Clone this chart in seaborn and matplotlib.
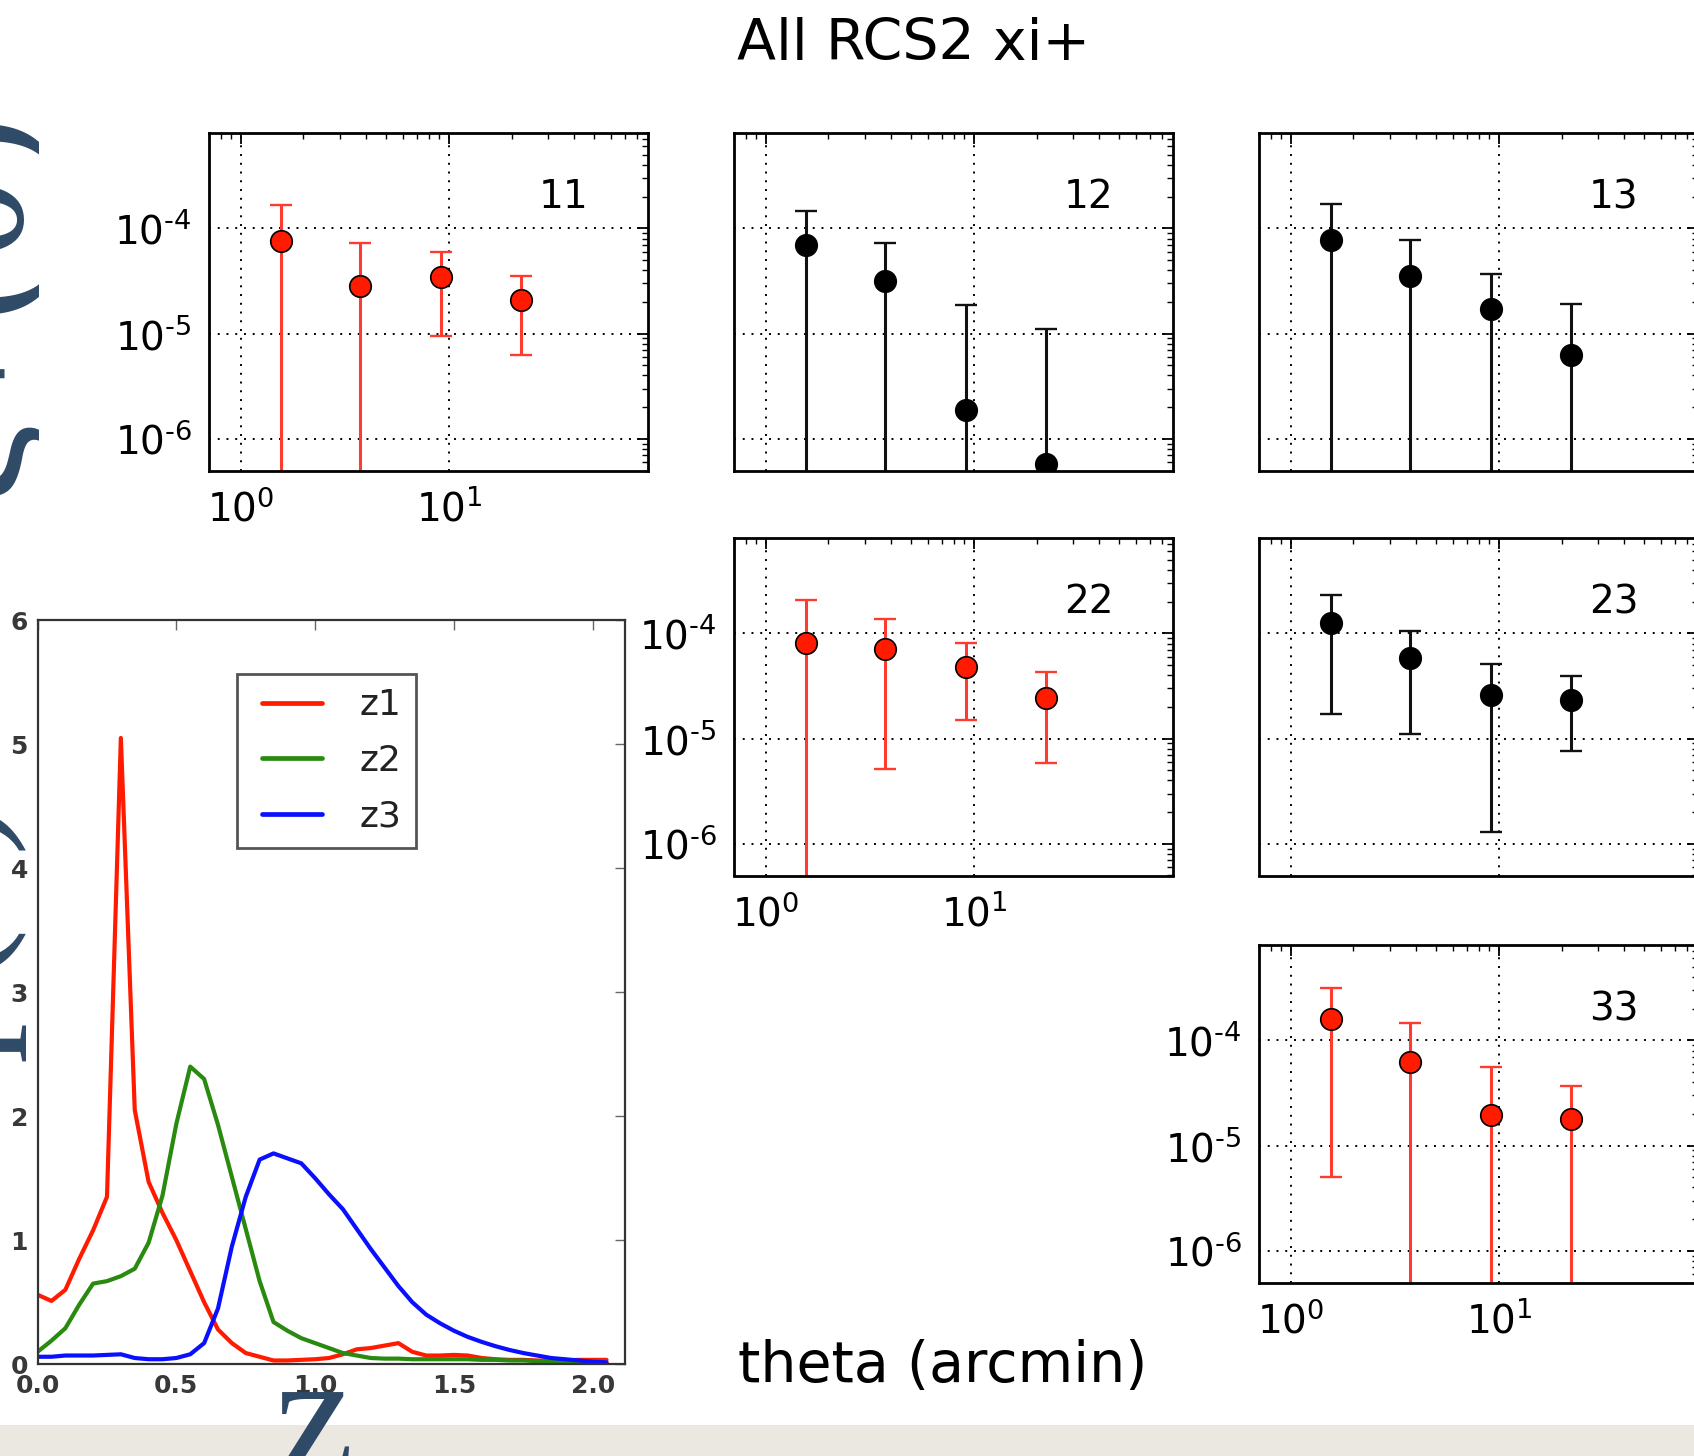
import numpy as np
import pandas as pd
import matplotlib
matplotlib.use("Agg")
import matplotlib.pyplot as plt
from matplotlib.patches import Rectangle
from matplotlib.lines import Line2D
from matplotlib.legend_handler import HandlerLine2D
from matplotlib.ticker import NullFormatter, FixedLocator, FuncFormatter
import seaborn as sns

# ---------------- data ----------------
theta = [1.56, 3.76, 9.18, 22.1]  # arcmin

xi_11 = [7.6e-5, 2.86e-5, 3.43e-5, 2.09e-5]
err_11 = [9.1e-5, 4.45e-5, 2.48e-5, 1.47e-5]
xi_12 = [6.95e-5, 3.19e-5, 1.88e-6, 5.8e-7]
err_12 = [7.55e-5, 4.12e-5, 1.68e-5, 1.05e-5]
xi_13 = [7.74e-5, 3.53e-5, 1.70e-5, 6.2e-6]
err_13 = [9.2e-5, 4.16e-5, 2.02e-5, 1.27e-5]
xi_22 = [8.15e-5, 7.15e-5, 4.79e-5, 2.45e-5]
err_22 = [1.27e-4, 6.64e-5, 3.28e-5, 1.86e-5]
xi_23 = [1.25e-4, 5.85e-5, 2.62e-5, 2.33e-5]
err_23 = [1.08e-4, 4.75e-5, 2.49e-5, 1.565e-5]
xi_33 = [1.60e-4, 6.24e-5, 1.96e-5, 1.78e-5]
err_33 = [1.55e-4, 8.3e-5, 3.6e-5, 1.9e-5]

panel_names = ["11", "12", "13", "22", "23", "33"]

z_grid = [0.00, 0.05, 0.10, 0.15, 0.20, 0.25, 0.30, 0.35, 0.40, 0.45,
          0.50, 0.55, 0.60, 0.65, 0.70, 0.75, 0.80, 0.85, 0.90, 0.95,
          1.00, 1.05, 1.10, 1.15, 1.20, 1.25, 1.30, 1.35, 1.40, 1.45,
          1.50, 1.55, 1.60, 1.65, 1.70, 1.75, 1.80, 1.85, 1.90, 1.95,
          2.00, 2.05]
nz_1 = [0.56, 0.51, 0.60, 0.85, 1.08, 1.35, 5.05, 2.05, 1.47, 1.22,
        1.00, 0.75, 0.50, 0.28, 0.17, 0.09, 0.06, 0.03, 0.03, 0.035,
        0.04, 0.05, 0.08, 0.12, 0.13, 0.15, 0.17, 0.10, 0.07, 0.07,
        0.075, 0.07, 0.05, 0.04, 0.035, 0.035, 0.03, 0.03, 0.03, 0.035,
        0.035, 0.035]
nz_2 = [0.10, 0.19, 0.29, 0.48, 0.65, 0.67, 0.71, 0.77, 0.98, 1.36,
        1.94, 2.40, 2.30, 1.93, 1.51, 1.09, 0.67, 0.34, 0.27, 0.21,
        0.17, 0.13, 0.09, 0.07, 0.05, 0.045, 0.045, 0.04, 0.04, 0.04,
        0.04, 0.04, 0.035, 0.035, 0.03, 0.03, 0.025, 0.025, 0.02, 0.02,
        0.02, 0.01]
nz_3 = [0.06, 0.06, 0.07, 0.07, 0.07, 0.075, 0.08, 0.05, 0.04, 0.04,
        0.05, 0.08, 0.17, 0.45, 0.95, 1.35, 1.65, 1.70, 1.66, 1.62,
        1.50, 1.37, 1.25, 1.09, 0.93, 0.78, 0.63, 0.50, 0.40, 0.33,
        0.27, 0.22, 0.18, 0.145, 0.115, 0.09, 0.07, 0.05, 0.04, 0.03,
        0.02, 0.015]
nz_labels = ["z1", "z2", "z3"]

# ---------------- figure ----------------
sns.set_style("white")
plt.rcParams["font.family"] = ["DejaVu Sans"]
plt.rcParams["mathtext.fontset"] = "dejavusans"

W, H = 1694, 1456
fig = plt.figure(figsize=(W / 100, H / 100), dpi=100)
fig.patch.set_facecolor("white")


def px_rect(left, top, w, h):
    return [left / W, 1 - (top + h) / H, w / W, h / H]


def px(x, y):
    return x / W, 1 - y / H


HYPHEN = "\u2010"


def decade_label(v, pos):
    e = int(round(np.log10(v)))
    if e < 0:
        return "$10^{" + HYPHEN + str(-e) + "}$"
    return "$10^{" + str(e) + "}$"


slide_blue = "#2e4a66"
serif = ["Liberation Serif", "DejaVu Serif"]

# slide band at the bottom
fig.patches.append(Rectangle((0, 0), 1, (H - 1425) / H, transform=fig.transFigure,
                             facecolor="#ebe8e1", edgecolor="none", zorder=-3))

# large slide labels, partly hidden behind the pasted plots
fig.text(*px(15, 302), "ξ+(θ)", rotation=90, rotation_mode="anchor",
         ha="center", va="baseline", fontsize=130, family=serif,
         color=slide_blue, zorder=-2)
fig.text(*px(-11, 929), "p(z)", rotation=90, rotation_mode="anchor",
         ha="center", va="baseline", fontsize=118, family=serif,
         color=slide_blue, zorder=-2)
# white area of the xi+ figure
fig.patches.append(Rectangle(px(39, 1425), (W - 39) / W, 1425 / H,
                             transform=fig.transFigure, facecolor="white",
                             edgecolor="none", zorder=-1))

# ---------------- xi+ panels ----------------
col_left = [208.5, 733.5, 1258.5]
row_top = [133.3, 538.3, 945.3]
pw, ph = 439, 337.2

red_face = "#ff1a00"
red_bar = "#ff3b2f"

panels = {
    "11": (0, 0, xi_11, err_11),
    "12": (0, 1, xi_12, err_12),
    "13": (0, 2, xi_13, err_13),
    "22": (1, 1, xi_22, err_22),
    "23": (1, 2, xi_23, err_23),
    "33": (2, 2, xi_33, err_33),
}

for name in panel_names:
    r, c, xi, err = panels[name]
    diag = r == c
    ax = fig.add_axes(px_rect(col_left[c], row_top[r], pw, ph))
    ax.set_facecolor("white")
    ax.set_xscale("log")
    ax.set_yscale("log", nonpositive="clip")
    bar_col = red_bar if diag else "#111111"
    face = red_face if diag else "black"
    ax.errorbar(theta, xi, yerr=err, fmt="none", ecolor=bar_col,
                elinewidth=2.2, capsize=8, capthick=1.7, zorder=2)
    sns.scatterplot(x=theta, y=xi, ax=ax, s=240, color=face,
                    edgecolor="black", linewidth=1.2, zorder=3, legend=False)
    ax.set_xlim(0.7, 90)
    ax.set_ylim(5e-7, 8e-4)
    ax.set_xlabel("")
    ax.set_ylabel("")
    ax.grid(True, which="major", color="black", linestyle=(0, (1, 3.5)),
            linewidth=1.4)
    ax.grid(False, which="minor")
    ax.tick_params(which="both", direction="in", top=True, right=True,
                   colors="black")
    ax.tick_params(which="major", length=8, width=1.3, labelsize=28)
    ax.tick_params(which="minor", length=4, width=1.0)
    ax.tick_params(axis="x", which="major", pad=14)
    ax.tick_params(axis="y", which="major", pad=12)
    ax.xaxis.set_major_formatter(FuncFormatter(decade_label))
    ax.yaxis.set_major_formatter(FuncFormatter(decade_label))
    ax.xaxis.set_minor_formatter(NullFormatter())
    ax.yaxis.set_minor_formatter(NullFormatter())
    if not diag:
        ax.tick_params(labelbottom=False, labelleft=False)
    for sp in ax.spines.values():
        sp.set_linewidth(2.0)
        sp.set_color("black")
        sp.set_visible(True)
    ax.text(0.866, 0.777, name, transform=ax.transAxes, ha="right",
            va="baseline", fontsize=28, color="black")

fig.text(*px(737, 60), "All RCS2 xi+", ha="left", va="baseline",
         fontsize=41, color="black")
fig.text(*px(738, 1382), "theta (arcmin)", ha="left", va="baseline",
         fontsize=41, color="black")

# ---------------- n(z) panel ----------------
ax_nz = fig.add_axes(px_rect(37.6, 620.2, 587, 744))
ax_nz.set_facecolor("white")
nz_df = pd.DataFrame({
    "z": z_grid * 3,
    "n": nz_1 + nz_2 + nz_3,
    "bin": [nz_labels[0]] * len(z_grid) + [nz_labels[1]] * len(z_grid)
           + [nz_labels[2]] * len(z_grid),
})
line_cols = ["#ff1a00", "#2a8a10", "#0a10ff"]
sns.lineplot(data=nz_df, x="z", y="n", hue="bin", palette=line_cols,
             estimator=None, linewidth=3.0, ax=ax_nz, legend=False)
ax_nz.set_xlim(0, 2.115)
ax_nz.set_ylim(0, 6)
ax_nz.set_xlabel("")
ax_nz.set_ylabel("")
ax_nz.xaxis.set_major_locator(FixedLocator([0.0, 0.5, 1.0, 1.5, 2.0]))
ax_nz.set_xticklabels(["0.0", "0.5", "1.0", "1.5", "2.0"])
ax_nz.yaxis.set_major_locator(FixedLocator([0, 1, 2, 3, 4, 5, 6]))
ax_nz.set_yticklabels(["0", "1", "2", "3", "4", "5", "6"])
ax_nz.tick_params(which="major", direction="in", top=True, right=True,
                  length=7, width=1.0, color="#666666", labelsize=18,
                  labelcolor="#383838", pad=7)
for lab in ax_nz.get_xticklabels() + ax_nz.get_yticklabels():
    lab.set_fontweight("bold")
for sp in ax_nz.spines.values():
    sp.set_linewidth(1.6)
    sp.set_color("#333333")
    sp.set_visible(True)
leg = ax_nz.legend(ax_nz.lines[:3], nz_labels, loc="upper left",
                   bbox_to_anchor=(0.3397, 0.9277), borderaxespad=0,
                   frameon=True, fancybox=False, framealpha=1,
                   edgecolor="#555555", fontsize=26, handlelength=2.25,
                   handletextpad=0.74, borderpad=0.4, labelspacing=0.6,
                   handler_map={Line2D: HandlerLine2D(numpoints=2,
                                                      marker_pad=0.3)})
leg.get_frame().set_linewidth(2.0)
for t in leg.get_texts():
    t.set_color("#222222")
for hl in leg.get_lines():
    hl.set_linewidth(3.4)

# x label of the n(z) panel on the slide
fig.text(*px(273, 1475), "z", ha="left", va="baseline", fontsize=130,
         family=serif, color=slide_blue, zorder=5)

fig.savefig("out.png", dpi=100, facecolor="white")
